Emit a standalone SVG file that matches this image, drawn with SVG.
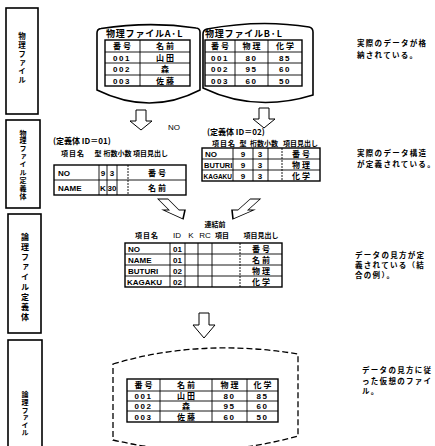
<svg xmlns="http://www.w3.org/2000/svg" width="435" height="446" viewBox="0 0 435 446">
<style>
.j{font-family:"Noto Sans CJK JP",sans-serif;font-weight:bold;font-size:8px;fill:#000}
.l{font-family:"Liberation Sans",sans-serif;font-weight:bold;font-size:8px;fill:#000}
.c{text-anchor:middle}
.box{fill:none;stroke:#000;stroke-width:1.6}
.tb{fill:#fff;stroke:#000;stroke-width:1.4}
.ln{stroke:#000;stroke-width:0.9;fill:none}
.dl{stroke:#000;stroke-width:0.9;fill:none;stroke-dasharray:2 1}
.ar{fill:#fff;stroke:#000;stroke-width:1}
.v{font-family:"Noto Sans CJK JP",sans-serif;font-weight:bold;writing-mode:vertical-rl;text-anchor:middle;fill:#000}
.n{font-family:"Noto Sans CJK JP",sans-serif;font-weight:bold;font-size:7.5px;letter-spacing:1.3px;fill:#000}
.h{font-family:"Noto Sans CJK JP",sans-serif;font-weight:bold;font-size:7px;fill:#000}
</style>
<defs>
<polygon id="arr" points="-5,-20 5,-20 5,-9 11,-9 0,0 -11,-9 -5,-9"/>
</defs>

<g id="label-physical-file">
<rect class="box" x="6" y="8" width="32" height="106"/>
<text class="v" x="22" y="59" style="font-size:7.5px;letter-spacing:1.4px">物理ファイル</text>
</g>
<g id="label-physical-def">
<rect class="box" x="6" y="120" width="34" height="88"/>
<text class="v" x="23" y="165" style="font-size:7px;letter-spacing:0.9px">物理ファイル定義体</text>
</g>
<g id="label-logical-def">
<rect class="box" x="8" y="214" width="33" height="119"/>
<text class="v" x="25" y="278" style="font-size:8px;letter-spacing:2px">論理ファイル定義体</text>
</g>
<g id="label-logical-file">
<rect class="box" x="8" y="340" width="34" height="110"/>
<text class="v" x="25" y="414" style="font-size:7px;letter-spacing:0.6px">論理ファイル</text>
</g>

<g id="physical-AL">
<path class="box" d="M97,33 Q97,29 101,28.5 Q150,21 196,28 Q200,28.5 200,32 L200,90 Q150,116 97,90 Z"/>
<text class="j" x="106" y="37" style="font-size:9px;letter-spacing:0.8px">物理ファイルA·L</text>
<rect class="tb" x="105" y="40" width="85" height="46"/>
<path class="ln" d="M105,52H190M105,63H190M105,75H190M140,40V86"/>
<text class="j c" x="122" y="49">番 号</text><text class="j c" x="165" y="49">名 前</text>
<text class="l c" x="122" y="60.5" style="letter-spacing:1.5px">001</text><text class="j c" x="165" y="60.5">山 田</text>
<text class="l c" x="122" y="72" style="letter-spacing:1.5px">002</text><text class="j c" x="165" y="72">森</text>
<text class="l c" x="122" y="83.5" style="letter-spacing:1.5px">003</text><text class="j c" x="165" y="83.5">佐 藤</text>
</g>

<g id="physical-BL">
<path class="box" d="M203,34 Q203,30 207,29 Q260,19 309,27 Q313,28 313,32 L313,95 Q255,113 203,88 Z"/>
<text class="j" x="205" y="37" style="font-size:9px;letter-spacing:0.8px">物理ファイルB·L</text>
<rect class="tb" x="205" y="40" width="97" height="46"/>
<path class="ln" d="M205,52H302M205,63H302M205,75H302M235,40V86M268,40V86"/>
<text class="j c" x="220" y="49">番 号</text><text class="j c" x="251.5" y="49">物 理</text><text class="j c" x="285" y="49">化 学</text>
<text class="l c" x="220" y="60.5" style="letter-spacing:1.5px">001</text><text class="l c" x="251.5" y="60.5" style="letter-spacing:1.5px">80</text><text class="l c" x="285" y="60.5" style="letter-spacing:1.5px">85</text>
<text class="l c" x="220" y="72" style="letter-spacing:1.5px">002</text><text class="l c" x="251.5" y="72" style="letter-spacing:1.5px">95</text><text class="l c" x="285" y="72" style="letter-spacing:1.5px">60</text>
<text class="l c" x="220" y="83.5" style="letter-spacing:1.5px">003</text><text class="l c" x="251.5" y="83.5" style="letter-spacing:1.5px">60</text><text class="l c" x="285" y="83.5" style="letter-spacing:1.5px">50</text>
</g>

<g id="note-1">
<text class="n" x="357" y="46">実際のデータが格</text>
<text class="n" x="357" y="58">納されている。</text>
</g>

<g id="def-01">
<text class="j" x="53" y="144">(定義体 ID＝01)</text>
<text class="h" x="61" y="156" style="letter-spacing:1px">項目名</text>
<text class="h c" x="98" y="156">型</text>
<text class="h" x="103.5" y="156">桁数小数</text>
<text class="h" x="133" y="156">項目見出し</text>
<rect class="tb" x="54" y="165" width="132" height="30"/>
<path class="ln" d="M54,180H186M99,165V195M107,165V195M117,165V195"/>
<path class="dl" d="M128,165V195"/>
<text class="l" x="58" y="175.5">NO</text><text class="l c" x="103" y="175.5">9</text><text class="l c" x="112" y="175.5">3</text><text class="j c" x="157" y="175.5">番 号</text>
<text class="l" x="58" y="190.5">NAME</text><text class="l c" x="103" y="190.5">K</text><text class="l c" x="112" y="190.5">30</text><text class="j c" x="157" y="190.5">名 前</text>
</g>

<g id="def-02">
<text class="j" x="207" y="135">(定義体 ID＝02)</text>
<text class="h" x="212" y="145.5" style="letter-spacing:1px">項目名</text>
<text class="h c" x="243" y="145.5">型</text>
<text class="h" x="250" y="145.5">桁数小数</text>
<text class="h" x="283" y="145.5">項目見出し</text>
<rect class="tb" x="202" y="148" width="118" height="33"/>
<path class="ln" d="M202,159H320M202,170H320M233,148V181M253,148V181M268,148V181"/>
<path class="dl" d="M282,148V181"/>
<text class="l" x="205" y="156.5">NO</text><text class="l c" x="243" y="156.5">9</text><text class="l c" x="260" y="156.5">3</text><text class="j c" x="301" y="156.5">番 号</text>
<text class="l" x="204" y="167.5" style="font-size:7.5px">BUTURI</text><text class="l c" x="243" y="167.5">9</text><text class="l c" x="260" y="167.5">3</text><text class="j c" x="301" y="167.5">物 理</text>
<text class="l" x="203.5" y="178.5" style="font-size:7px" textLength="28.5" lengthAdjust="spacingAndGlyphs">KAGAKU</text><text class="l c" x="243" y="178.5">9</text><text class="l c" x="260" y="178.5">3</text><text class="j c" x="301" y="178.5">化 学</text>
</g>

<g id="note-2">
<text class="n" x="357" y="156">実際のデータ構造</text>
<text class="n" x="357" y="167">が定義されている。</text>
</g>

<g id="logical-def">
<text class="h c" x="215" y="227">連結前</text>
<text class="h c" x="147" y="238" style="letter-spacing:1px">項目名</text>
<text class="l c" x="177" y="238" style="font-weight:normal">ID</text>
<text class="l c" x="191" y="238" style="font-weight:normal">K</text>
<text class="l c" x="205" y="238" style="font-weight:normal">RC</text>
<text class="h c" x="222" y="238">項目</text>
<text class="h c" x="261" y="238">項目見出し</text>
<rect class="tb" x="125" y="243" width="157" height="44"/>
<path class="ln" d="M125,254H282M125,265H282M125,276H282M170,243V287M185,243V287M198,243V287M212,243V287"/>
<path class="dl" d="M240,243V287"/>
<text class="l" x="128" y="251.5">NO</text><text class="l c" x="177.5" y="251.5">01</text><text class="j c" x="261" y="251.5">番 号</text>
<text class="l" x="128" y="262.5">NAME</text><text class="l c" x="177.5" y="262.5">01</text><text class="j c" x="261" y="262.5">名 前</text>
<text class="l" x="128" y="273.5">BUTURI</text><text class="l c" x="177.5" y="273.5">02</text><text class="j c" x="261" y="273.5">物 理</text>
<text class="l" x="127" y="284.5">KAGAKU</text><text class="l c" x="177.5" y="284.5">02</text><text class="j c" x="261" y="284.5">化 学</text>
</g>

<g id="note-3">
<text class="n" x="355" y="258">データの見方が定</text>
<text class="n" x="355" y="268">義されている（結</text>
<text class="n" x="355" y="278">合の例）。</text>
</g>

<g id="logical-file">
<path class="box" style="stroke-width:1.3;stroke-dasharray:6 3" d="M113,364 Q200,338 298,354 L298,436 Q205,462 113,440 Z"/>
<rect class="tb" x="127" y="379" width="151" height="43"/>
<path class="ln" d="M127,391H278M127,401H278M127,411H278M160,379V422M212,379V422M247,379V422"/>
<text class="j c" x="143.5" y="388">番 号</text><text class="j c" x="186" y="388">名 前</text><text class="j c" x="229.5" y="388">物 理</text><text class="j c" x="262.5" y="388">化 学</text>
<text class="l c" x="143.5" y="399" style="letter-spacing:1.5px">001</text><text class="j c" x="186" y="399">山 田</text><text class="l c" x="229.5" y="399" style="letter-spacing:1.5px">80</text><text class="l c" x="262.5" y="399" style="letter-spacing:1.5px">85</text>
<text class="l c" x="143.5" y="409" style="letter-spacing:1.5px">002</text><text class="j c" x="186" y="409">森</text><text class="l c" x="229.5" y="409" style="letter-spacing:1.5px">95</text><text class="l c" x="262.5" y="409" style="letter-spacing:1.5px">60</text>
<text class="l c" x="143.5" y="419.5" style="letter-spacing:1.5px">003</text><text class="j c" x="186" y="419.5">佐 藤</text><text class="l c" x="229.5" y="419.5" style="letter-spacing:1.5px">60</text><text class="l c" x="262.5" y="419.5" style="letter-spacing:1.5px">50</text>
</g>

<g id="note-4">
<text class="n" x="362" y="373">データの見方に従</text>
<text class="n" x="362" y="384">った仮想のファイ</text>
<text class="n" x="362" y="394">ル。</text>
</g>

<g id="connectors">
<use href="#arr" class="ar" transform="translate(141,130)"/>
<text class="l" x="168" y="130" style="font-weight:normal">NO</text>
<use href="#arr" class="ar" transform="translate(264,128)"/>
<use href="#arr" class="ar" transform="translate(183,219) skewX(45)"/>
<use href="#arr" class="ar" transform="translate(233,219) skewX(-48)"/>
<polygon class="ar" points="199,313 209,313 209,325 215,325 204,338 193,325 199,325"/>
</g>
</svg>
